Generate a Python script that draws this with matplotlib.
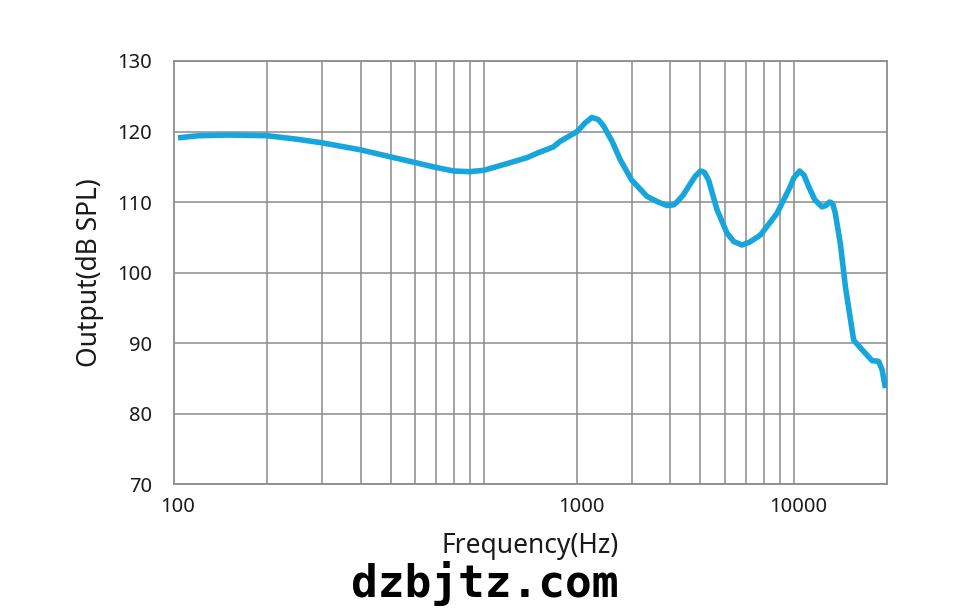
import matplotlib
matplotlib.use("Agg")
import matplotlib.pyplot as plt
from matplotlib.ticker import FixedLocator, NullFormatter, NullLocator
from matplotlib.transforms import ScaledTranslation

# ---- data ----
freq_hz = [103, 120, 150, 200, 250, 300, 400, 500, 600, 700, 800, 900, 1000,
           1200, 1380, 1500, 1674, 1763, 2000, 2120, 2233, 2340, 2433, 2600,
           2755, 3000, 3360, 3650, 3899, 4100, 4200, 4400, 4578, 4800, 5000,
           5150, 5313, 5656, 6090, 6400, 6808, 7200, 7801, 8832, 9750, 10000,
           10450, 10800, 11170, 11700, 12340, 12700, 13060, 13350, 13620,
           14140, 14680, 15610, 16820, 17900, 18790, 19290, 19760]
output_db = [119.1, 119.4, 119.5, 119.4, 118.9, 118.4, 117.4, 116.4, 115.6,
             114.9, 114.4, 114.3, 114.5, 115.5, 116.3, 117.0, 117.8, 118.6,
             120.0, 121.2, 122.0, 121.7, 120.8, 118.5, 116.0, 113.1, 110.8,
             110.0, 109.5, 109.6, 110.0, 111.0, 112.2, 113.6, 114.4, 114.2,
             113.1, 108.9, 105.6, 104.4, 103.9, 104.3, 105.3, 108.4, 112.2,
             113.4, 114.4, 113.8, 112.2, 110.3, 109.3, 109.5, 110.0, 109.8,
             108.4, 104.1, 98.0, 90.4, 88.8, 87.5, 87.4, 86.2, 83.6]

grid_freqs = [200, 300, 400, 500, 600, 700, 800, 900, 1000,
              2000, 3000, 4000, 5000, 6000, 7000, 8000, 9000, 10000]
xtick_pos = [100, 2000, 10000]
xtick_labels = ["100", "1000", "10000"]
yticks = [70, 80, 90, 100, 110, 120, 130]

plt.rcParams['font.family'] = ['Noto Sans', 'DejaVu Sans']

fig = plt.figure(figsize=(9.76, 6.13), dpi=100)
ax = fig.add_axes([174/976, 1-484/613, (887-174)/976, (484-61)/613])

grid_color = "#8c8c8c"
for f in grid_freqs:
    ax.axvline(f, color=grid_color, lw=1.1, zorder=1)
for y in yticks:
    ax.axhline(y, color=grid_color, lw=1.1, zorder=1)

ax.plot(freq_hz, output_db, color="#17a5dd", lw=4.0, solid_capstyle="butt",
        solid_joinstyle="round", zorder=3)

ax.set_xscale("log")
ax.set_xlim(100, 20000)
ax.set_ylim(70, 130)
ax.xaxis.set_major_locator(FixedLocator(xtick_pos))
ax.set_xticklabels(xtick_labels)
ax.xaxis.set_minor_locator(NullLocator())
ax.xaxis.set_minor_formatter(NullFormatter())
ax.set_yticks(yticks)
ax.tick_params(axis="both", length=0, labelsize=14.5, colors="#1a1a1a")
ax.tick_params(axis="x", pad=9)
ax.tick_params(axis="y", pad=16)
shift = ScaledTranslation(0.04, 0, fig.dpi_scale_trans)
for lab in ax.get_xticklabels():
    lab.set_transform(lab.get_transform() + shift)
for s in ax.spines.values():
    s.set_color(grid_color)
    s.set_linewidth(1.3)

ax.set_ylabel("Output(dB SPL)", fontsize=19, color="#1a1a1a", labelpad=9)
ax.set_xlabel("Frequency(Hz)", fontsize=19, color="#1a1a1a", labelpad=11)

fig.text(485/976, 1-597/613, "dzbjtz.com", family="DejaVu Sans Mono",
         weight="bold", fontsize=32, ha="center", va="baseline", color="black")

fig.savefig("out.png", dpi=100)
